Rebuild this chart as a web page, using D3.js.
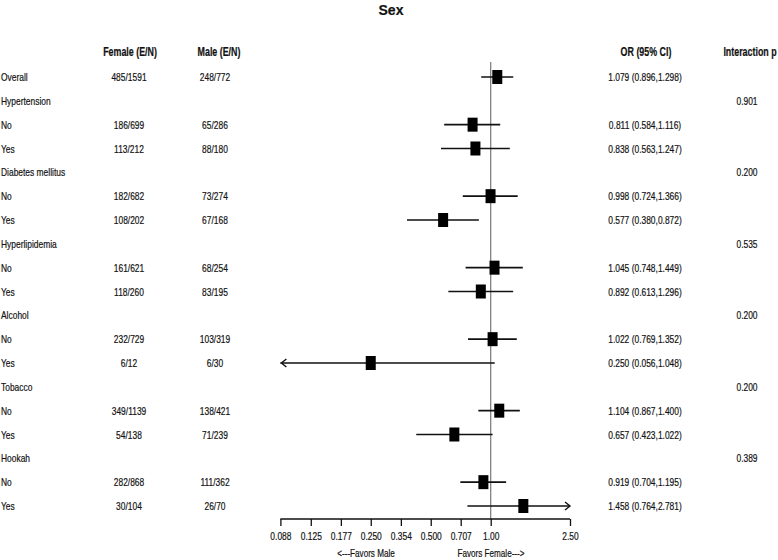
<!DOCTYPE html>
<html><head><meta charset="utf-8">
<script src="https://cdn.jsdelivr.net/npm/d3@7"></script>
<style>
body{margin:0;background:#fff;}
text{font-family:"Liberation Sans",Arial,sans-serif;fill:#111;stroke:#111;stroke-width:0.2;}
</style></head>
<body>
<svg id="c" width="778" height="560"></svg>
<script>
const labels = ["Overall","Hypertension","No","Yes","Diabetes mellitus","No","Yes","Hyperlipidemia","No","Yes","Alcohol","No","Yes","Tobacco","No","Yes","Hookah","No","Yes"];
const female = ["485/1591","","186/699","113/212","","182/682","108/202","","161/621","118/260","","232/729","6/12","","349/1139","54/138","","282/868","30/104"];
const male = ["248/772","","65/286","88/180","","73/274","67/168","","68/254","83/195","","103/319","6/30","","138/421","71/239","","111/362","26/70"];
const orVal = [1.079,null,0.811,0.838,null,0.998,0.577,null,1.045,0.892,null,1.022,0.250,null,1.104,0.657,null,0.919,1.458];
const lower = [0.896,null,0.584,0.563,null,0.724,0.380,null,0.748,0.613,null,0.769,0.056,null,0.867,0.423,null,0.704,0.764];
const upper = [1.298,null,1.116,1.247,null,1.366,0.872,null,1.449,1.296,null,1.352,1.048,null,1.400,1.022,null,1.195,2.781];
const orText = ["1.079 (0.896,1.298)","","0.811 (0.584,1.116)","0.838 (0.563,1.247)","","0.998 (0.724,1.366)","0.577 (0.380,0.872)","","1.045 (0.748,1.449)","0.892 (0.613,1.296)","","1.022 (0.769,1.352)","0.250 (0.056,1.048)","","1.104 (0.867,1.400)","0.657 (0.423,1.022)","","0.919 (0.704,1.195)","1.458 (0.764,2.781)"];
const pInter = ["","0.901","","","0.200","","","0.535","","","0.200","","","0.200","","","0.389","",""];
const tickVals = [0.088,0.125,0.177,0.250,0.354,0.500,0.707,1.00,2.50];
const tickLabels = ["0.088","0.125","0.177","0.250","0.354","0.500","0.707","1.00","2.50"];

const svg = d3.select("#c");
const x = d3.scaleLog().domain([0.088,2.5]).range([280.4,570]);
const y = d3.scalePoint().domain(d3.range(labels.length)).range([77,506]);
const axisY = 519;
const SX = 0.74;

function txt(g, t, px, py, size, anchor, bold){
  return g.append("text")
    .attr("transform",`translate(${px},${py}) scale(${SX},1)`)
    .attr("text-anchor",anchor||"start")
    .attr("font-size",size)
    .attr("font-weight",bold?"bold":"normal")
    .text(t);
}

// title
svg.append("text").attr("x",391).attr("y",15).attr("text-anchor","middle")
  .attr("font-weight","bold").attr("font-size",14).text("Sex");

// headers
const hdrY = 56;
[["Female (E/N)",130],["Male (E/N)",219],["OR (95% CI)",646],["Interaction p",750]].forEach(([t,cx])=>{
  txt(svg,t,cx,hdrY,12,"middle",true);
});

const fs = 11.4;
const rows = svg.append("g");
labels.forEach((lab,i)=>{
  const yy = y(i)+4;
  txt(rows,lab,1,yy,fs,"start");
  if(female[i]) txt(rows,female[i],129,yy,fs,"middle");
  if(male[i]) txt(rows,male[i],215,yy,fs,"middle");
  if(orText[i]) txt(rows,orText[i],645,yy,fs,"middle");
  if(pInter[i]) txt(rows,pInter[i],747,yy,fs,"middle");
});

// reference line
svg.append("line").attr("x1",x(1)).attr("x2",x(1)).attr("y1",62).attr("y2",axisY)
  .attr("stroke","#777").attr("stroke-width",1.2);

// CIs and points
const [dmin,dmax] = x.domain();
const plot = svg.append("g");
orVal.forEach((v,i)=>{
  if(v==null) return;
  const yy = y(i);
  const lo = Math.max(lower[i],dmin), hi = Math.min(upper[i],dmax);
  plot.append("line").attr("x1",x(lo)).attr("x2",x(hi)).attr("y1",yy).attr("y2",yy)
    .attr("stroke","#111").attr("stroke-width",1.6);
  if(lower[i]<dmin){
    const xa=x(dmin)+1;
    plot.append("path").attr("d",`M${xa+5},${yy-4}L${xa},${yy}L${xa+5},${yy+4}`).attr("fill","none").attr("stroke","#111").attr("stroke-width",1.4);
  }
  if(upper[i]>dmax){
    const xa=x(dmax);
    plot.append("path").attr("d",`M${xa-5},${yy-4}L${xa},${yy}L${xa-5},${yy+4}`).attr("fill","none").attr("stroke","#111").attr("stroke-width",1.4);
  }
  plot.append("rect").attr("x",x(v)-5).attr("y",yy-7).attr("width",10).attr("height",14).attr("fill","#000");
});

// axis
const axis = d3.axisBottom(x).tickValues(tickVals).tickFormat((d,i)=>tickLabels[i]).tickSize(7).tickPadding(6);
const ag = svg.append("g").attr("transform",`translate(0,${axisY})`).call(axis);
ag.select(".domain").attr("stroke","#111").attr("stroke-width",1.5).attr("d",`M${x(dmin)},0H${x(dmax)}`);
ag.selectAll(".tick line").attr("stroke","#111").attr("stroke-width",1.3);
ag.selectAll(".tick text").attr("font-size",11.4).attr("fill","#111")
  .attr("transform",`scale(${SX},1)`).attr("text-anchor","middle");

txt(svg,"<---Favors Male",366,557,11,"middle");
txt(svg,"Favors Female--->",491,557,11,"middle");
</script>
</body></html>
